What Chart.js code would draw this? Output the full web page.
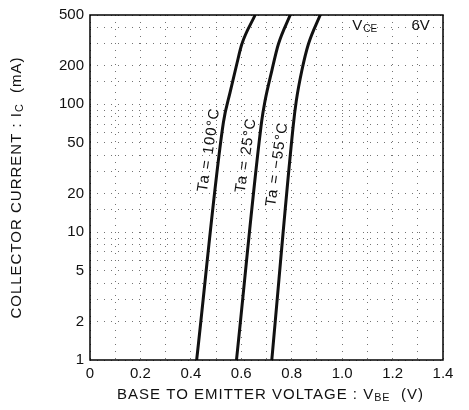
<!DOCTYPE html>
<html>
<head>
<meta charset="utf-8">
<script src="https://cdn.jsdelivr.net/npm/chart.js@4.4.1/dist/chart.umd.min.js"></script>
<style>
  body { margin: 0; background: #fff; }
  canvas { display: block; }
</style>
</head>
<body>
<canvas id="myChart" width="469" height="410"></canvas>
<script>
// VBE (V) / IC (mA) pairs
const vbe100 = [0.423, 0.529, 0.556, 0.582, 0.602, 0.655];
const ic100 = [1, 72, 125, 206, 295, 500];
const vbe25 = [0.581, 0.681, 0.694, 0.721, 0.747, 0.794];
const ic25 = [1, 74, 106, 183, 295, 500];
const vbeM55 = [0.721, 0.806, 0.818, 0.840, 0.866, 0.913];
const icM55 = [1, 68, 106, 183, 295, 500];

const curveLabels = ['Ta = 100°C', 'Ta = 25°C', 'Ta = −55°C'];
// where each curve label sits (V, mA)
const labelV = [0.472, 0.619, 0.742];
const labelI = [44, 40, 34];

const yTickLabels = [1, 2, 5, 10, 20, 50, 100, 200, 500];
const xTickLabels = ['0', '0.2', '0.4', '0.6', '0.8', '1.0', '1.2', '1.4'];

const FONT = '"Liberation Sans", Arial, sans-serif';

function toPoints(xs, ys) {
    return xs.map((v, i) => ({ x: v, y: ys[i] }));
}

function curve(xs, ys) {
    return {
        data: toPoints(xs, ys),
        borderColor: '#111',
        borderWidth: 3,
        pointRadius: 0,
        fill: false,
        cubicInterpolationMode: 'monotone'
    };
}

// draw text with subscript parts, centred on x
function drawParts(ctx, parts, x, y, size) {
    let total = 0;
    parts.forEach(p => {
        ctx.font = (p[1] ? size * 0.72 : size) + 'px ' + FONT;
        total += ctx.measureText(p[0]).width;
    });
    let cx = x - total / 2;
    ctx.textAlign = 'left';
    ctx.textBaseline = 'middle';
    parts.forEach(p => {
        ctx.font = (p[1] ? size * 0.72 : size) + 'px ' + FONT;
        ctx.fillText(p[0], cx, p[1] ? y + size * 0.22 : y);
        cx += ctx.measureText(p[0]).width;
    });
}

const extras = {
    id: 'extras',
    afterDraw(chart) {
        const { ctx, chartArea, scales } = chart;
        const xs = scales.x, ys = scales.y;
        ctx.save();
        ctx.strokeStyle = '#000';
        ctx.lineWidth = 1.5;
        ctx.strokeRect(chartArea.left, chartArea.top, chartArea.width, chartArea.height);

        ctx.fillStyle = '#111';
        ctx.letterSpacing = '1px';

        // axis titles
        drawParts(ctx, [['BASE TO EMITTER VOLTAGE : V', false], ['BE', true], ['  (V)', false]],
            (chartArea.left + chartArea.right) / 2 + 4, 395, 15);
        ctx.save();
        ctx.translate(17, (chartArea.top + chartArea.bottom) / 2);
        ctx.rotate(-Math.PI / 2);
        drawParts(ctx, [['COLLECTOR CURRENT : I', false], ['C', true], ['  (mA)', false]], 0, 0, 15);
        ctx.restore();

        // VCE note
        ctx.letterSpacing = '0px';
        ctx.textAlign = 'left';
        ctx.textBaseline = 'middle';
        ctx.font = '15px ' + FONT;
        let vx = xs.getPixelForValue(1.04), vy = ys.getPixelForValue(410);
        ctx.fillText('V', vx, vy);
        ctx.font = '10px ' + FONT;
        ctx.fillText('CE', vx + 11, vy + 3);
        ctx.font = '15px ' + FONT;
        ctx.fillText('6V', xs.getPixelForValue(1.275), vy);

        // curve labels
        ctx.letterSpacing = '1px';
        ctx.font = '15px ' + FONT;
        ctx.textAlign = 'center';
        curveLabels.forEach((t, i) => {
            ctx.save();
            ctx.translate(xs.getPixelForValue(labelV[i]), ys.getPixelForValue(labelI[i]));
            ctx.rotate(-81.5 * Math.PI / 180);
            ctx.fillText(t, 0, 0);
            ctx.restore();
        });
        ctx.restore();
    }
};

const ctx = document.getElementById('myChart').getContext('2d');
window.myChart = new Chart(ctx, {
    type: 'line',
    data: {
        datasets: [curve(vbe100, ic100), curve(vbe25, ic25), curve(vbeM55, icM55)]
    },
    options: {
        responsive: false,
        animation: false,
        layout: { padding: { top: 13, right: 26, left: 0, bottom: 0 } },
        plugins: { legend: { display: false }, tooltip: { enabled: false } },
        scales: {
            x: {
                type: 'linear',
                min: 0,
                max: 1.4,
                afterFit: s => { s.height = 50; },
                border: { display: false, dash: [1, 6] },
                grid: { color: 'rgba(0,0,0,0.55)', drawTicks: false },
                ticks: {
                    stepSize: 0.1,
                    autoSkip: false,
                    maxRotation: 0,
                    padding: 5,
                    color: '#111',
                    font: { family: FONT, size: 15 },
                    callback: v => {
                        const k = Math.round(v * 10);
                        return k % 2 === 0 ? xTickLabels[k / 2] : '';
                    }
                }
            },
            y: {
                type: 'logarithmic',
                min: 1,
                max: 500,
                afterFit: s => { s.width = 90; },
                border: { display: false, dash: [1, 6] },
                grid: { color: 'rgba(0,0,0,0.55)', drawTicks: false },
                ticks: {
                    autoSkip: false,
                    padding: 6,
                    color: '#111',
                    font: { family: FONT, size: 15 },
                    callback: v => yTickLabels.some(t => Math.abs(t - v) < 1e-6) ? String(v) : ''
                }
            }
        }
    },
    plugins: [extras]
});
</script>
</body>
</html>
